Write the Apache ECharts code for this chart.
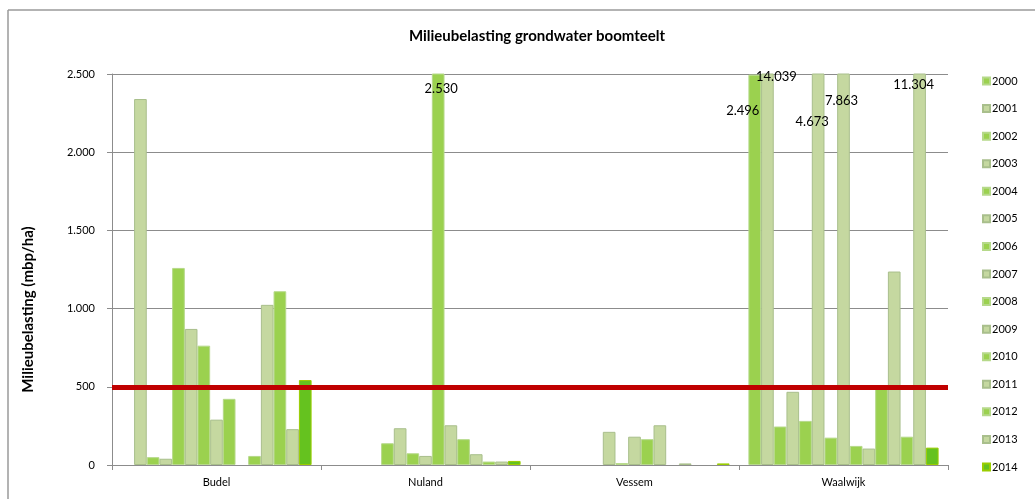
<!DOCTYPE html>
<html style="height: 100%">
<head>
<meta charset="utf-8">
<script src="https://cdn.jsdelivr.net/npm/echarts@6/dist/echarts.min.js"></script>
</head>
<body style="height: 100%; margin: 0; background: #fff">
<div id="container" style="width: 1035px; height: 499px"></div>
<script type="text/javascript">
// gemeenten en jaren
var gemeenten = ['Budel', 'Nuland', 'Vessem', 'Waalwijk'];
var jaren = ['2000', '2001', '2002', '2003', '2004', '2005', '2006', '2007',
             '2008', '2009', '2010', '2011', '2012', '2013', '2014'];

// milieubelasting per jaar (mbp/ha), null = geen waarde
var budel    = [null, 2340, 50, 40, 1260, 870, 763, 290, 423, null, 58, 1024, 1111, 229, 543];
var nuland   = [null, null, null, null, 139, 235, 75, 58, 2530, 254, 165, 69, 22, 22, 26];
var vessem   = [null, null, null, null, null, 212, 12, 181, 165, 254, null, 10, null, null, 10];
var waalwijk = [2496, 14039, 246, 468, 282, 4673, 175, 7863, 122, 105, 490, 1237, 181, 11304, 111];

var norm = 500;

var tabel = [budel, nuland, vessem, waalwijk];

// label offsets voor de afgekapte staven [gemeente, jaar] -> [dx, dy]
var labelOffsets = {
  '1-8': [3, 4],
  '3-0': [-12, 25],
  '3-1': [9, -8],
  '3-5': [-6, 37],
  '3-7': [-2, 16],
  '3-13': [-6, 0]
};

function nl(v) {
  return String(v).replace(/\B(?=(\d{3})+(?!\d))/g, '.');
}

var donker = '#9bd14f', licht = '#c5d8a0';

var series = jaren.map(function (jaar, j) {
  var kleur = j % 2 === 0 ? donker : licht;
  var rand = j % 2 === 0 ? '#b6d98a' : '#a9bf8c';
  if (j === 14) { kleur = '#65c21f'; rand = '#9acd00'; }
  var data = tabel.map(function (rij, g) {
    var v = rij[j];
    var item = { value: v };
    var off = labelOffsets[g + '-' + j];
    if (off) {
      item.label = {
        show: true,
        position: 'insideTop',
        offset: off,
        color: '#000',
        fontSize: 13,
        fontFamily: 'Lato',
        formatter: function (p) { return nl(p.value); }
      };
    }
    return item;
  });
  var s = {
    name: jaar,
    type: 'bar',
    barGap: 0,
    barCategoryGap: '9%',
    data: data,
    itemStyle: { color: kleur, borderColor: rand, borderWidth: 1 },
    emphasis: { disabled: true }
  };
  if (j === 0) {
    s.markLine = {
      silent: true,
      symbol: 'none',
      z: 10,
      label: { show: false },
      lineStyle: { color: '#c00000', width: 5, type: 'solid' },
      data: [{ yAxis: norm }]
    };
  }
  return s;
});

var myChart = echarts.init(document.getElementById('container'));
var option = {
  animation: false,
  textStyle: { fontFamily: 'Lato' },
  title: {
    text: 'Milieubelasting grondwater boomteelt',
    left: 532,
    textAlign: 'center',
    top: 24,
    textStyle: { fontSize: 15, fontWeight: 'bold', color: '#000', fontFamily: 'Lato' }
  },
  grid: { left: 112, right: 87, top: 74, bottom: 34 },
  legend: {
    orient: 'vertical',
    left: 982,
    top: 74,
    padding: 0,
    itemWidth: 7,
    itemHeight: 7,
    itemGap: 13.57,
    icon: 'rect',
    textStyle: { fontSize: 11, color: '#000', lineHeight: 14, padding: [0, 0, 0, -3] },
    data: jaren
  },
  xAxis: {
    type: 'category',
    data: gemeenten,
    axisLine: { lineStyle: { color: '#8c8c8c', width: 1 } },
    axisTick: { show: true, length: 5, lineStyle: { color: '#8c8c8c' } },
    axisLabel: { color: '#000', fontSize: 11, margin: 12 }
  },
  yAxis: {
    type: 'value',
    min: 0,
    max: 2500,
    interval: 500,
    name: 'Milieubelasting (mbp/ha)',
    nameLocation: 'middle',
    nameGap: 76,
    nameTextStyle: { fontSize: 15, fontWeight: 'bold', color: '#000', padding: [0, 80, 0, 0] },
    axisLine: { show: true, lineStyle: { color: '#8c8c8c', width: 1 } },
    axisTick: { show: true, length: 5, lineStyle: { color: '#8c8c8c' } },
    splitLine: { lineStyle: { color: '#8c8c8c', width: 1 } },
    axisLabel: {
      color: '#000',
      fontSize: 11,
      margin: 17,
      formatter: function (v) { return nl(v); }
    }
  },
  graphic: [
    { type: 'line', shape: { x1: 8, y1: 10, x2: 8, y2: 499 }, style: { stroke: '#9a9a9a', lineWidth: 1.5 } },
    { type: 'line', shape: { x1: 8, y1: 10, x2: 1035, y2: 10 }, style: { stroke: '#9a9a9a', lineWidth: 1.5 } }
  ],
  series: series
};
myChart.setOption(option);
</script>
</body>
</html>
